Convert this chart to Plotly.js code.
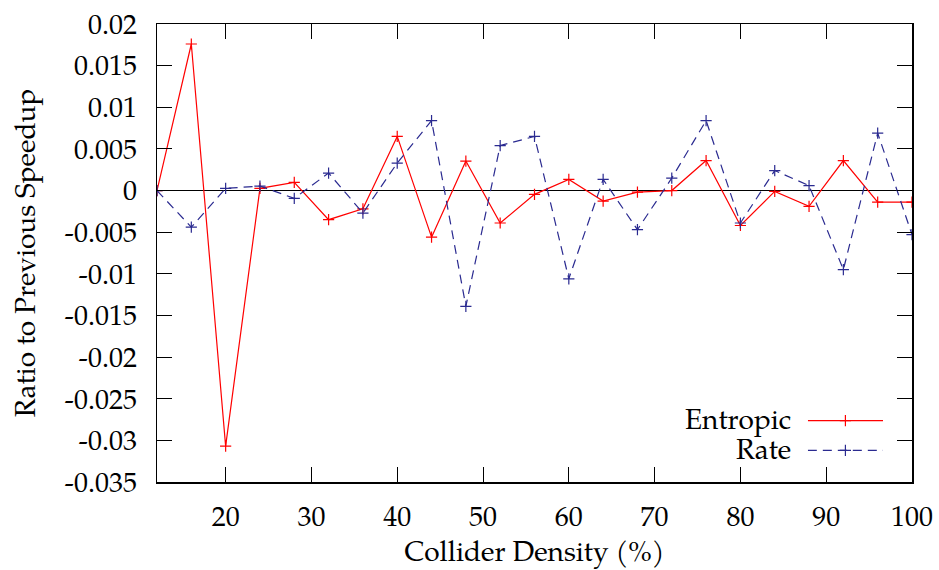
<!DOCTYPE html>
<html>
<head>
<meta charset="utf-8">
<script src="https://cdn.plot.ly/plotly-3.0.1.min.js"></script>
<style>html,body{margin:0;padding:0;background:#fff;}#chart{width:939px;height:570px;}</style>
</head>
<body>
<div id="chart"></div>
<script>
const density = [12,16,20,24,28,32,36,40,44,48,52,56,60,64,68,72,76,80,84,88,92,96,100];
const entropic = [0,0.0176,-0.0307,0.00026,0.00098,-0.0035,-0.0022,0.0065,-0.0056,0.00354,-0.0039,-0.00046,0.00134,-0.00126,-0.0002,0,0.0036,-0.0042,-0.0001,-0.0019,0.0036,-0.0014,-0.0014];
const rate = [0,-0.0044,0.00026,0.00054,-0.00094,0.0021,-0.0027,0.0033,0.0084,-0.0139,0.0054,0.0065,-0.0106,0.00134,-0.0047,0.0015,0.0084,-0.0039,0.0024,0.0006,-0.0095,0.0069,-0.0053];
const yTickVals = [0.02,0.015,0.01,0.005,0,-0.005,-0.01,-0.015,-0.02,-0.025,-0.03,-0.035];
const yTickText = ["0.02","0.015","0.01","0.005","0","-0.005","-0.01","-0.015","-0.02","-0.025","-0.03","-0.035"];
const xTickVals = [20,30,40,50,60,70,80,90,100];
const seriesNames = ["Entropic","Rate"];

const RED = '#ff0000', BLUE = '#2a2a90';
const FONT = 'TeX Gyre Pagella';
const FS = 28;
const mk = c => ({symbol:'cross-thin', size:8, line:{color:c, width:1.2}, color:c});

const traces = [
  {x:density, y:entropic, mode:'lines+markers', line:{color:RED, width:1.2}, marker:mk(RED), showlegend:false},
  {x:density, y:rate, mode:'lines+markers', line:{color:BLUE, width:1.2, dash:'9px,6px'}, marker:mk(BLUE), showlegend:false},
  // legend samples
  {x:[0,1], y:[0.134,0.134], xaxis:'x2', yaxis:'y2', mode:'lines', line:{color:RED, width:1.2}, showlegend:false, hoverinfo:'skip'},
  {x:[0.5], y:[0.134], xaxis:'x2', yaxis:'y2', mode:'markers', marker:mk(RED), showlegend:false, hoverinfo:'skip'},
  {x:[0,1], y:[0.069,0.069], xaxis:'x2', yaxis:'y2', mode:'lines', line:{color:BLUE, width:1.2, dash:'9px,6px'}, showlegend:false, hoverinfo:'skip'},
  {x:[0.5], y:[0.069], xaxis:'x2', yaxis:'y2', mode:'markers', marker:mk(BLUE), showlegend:false, hoverinfo:'skip'}
];

const layout = {
  width:939, height:570,
  margin:{l:157, r:27, t:24, b:87.5},
  paper_bgcolor:'#fff', plot_bgcolor:'rgba(0,0,0,0)',
  font:{family:FONT, size:FS, color:'#000'},
  xaxis:{
    range:[12,100], tickvals:xTickVals, ticks:'inside', ticklen:15, tickwidth:1, tickcolor:'#000',
    showline:true, mirror:'ticks', linecolor:'#000', linewidth:1.5, showgrid:false, zeroline:false,
    tickfont:{family:FONT, size:FS}, ticklabelstandoff:9,
    title:{text:'Collider Density (%)', font:{family:FONT, size:FS}, standoff:8}
  },
  yaxis:{
    range:[-0.035,0.02], tickvals:yTickVals, ticktext:yTickText, ticks:'inside', ticklen:15, tickwidth:1, tickcolor:'#000',
    showline:true, mirror:'ticks', linecolor:'#000', linewidth:1.5, showgrid:false,
    zeroline:true, zerolinecolor:'#000', zerolinewidth:1,
    tickfont:{family:FONT, size:FS}, ticklabelstandoff:13,
    title:{text:'Ratio to Previous Speedup', font:{family:FONT, size:FS}, standoff:21}
  },
  xaxis2:{domain:[0.862,0.9616], range:[0,1], visible:false, fixedrange:true, anchor:'y2'},
  yaxis2:{domain:[0,1], range:[0,1], visible:false, fixedrange:true, anchor:'x2'},
  annotations:[
    {xref:'paper', yref:'paper', x:0.842, y:0.128, xanchor:'right', yanchor:'middle', text:seriesNames[0], showarrow:false, font:{family:FONT, size:FS}},
    {xref:'paper', yref:'paper', x:0.842, y:0.063, xanchor:'right', yanchor:'middle', text:seriesNames[1], showarrow:false, font:{family:FONT, size:FS}}
  ]
};

Plotly.newPlot('chart', traces, layout, {displayModeBar:false, staticPlot:true});
</script>
</body>
</html>
